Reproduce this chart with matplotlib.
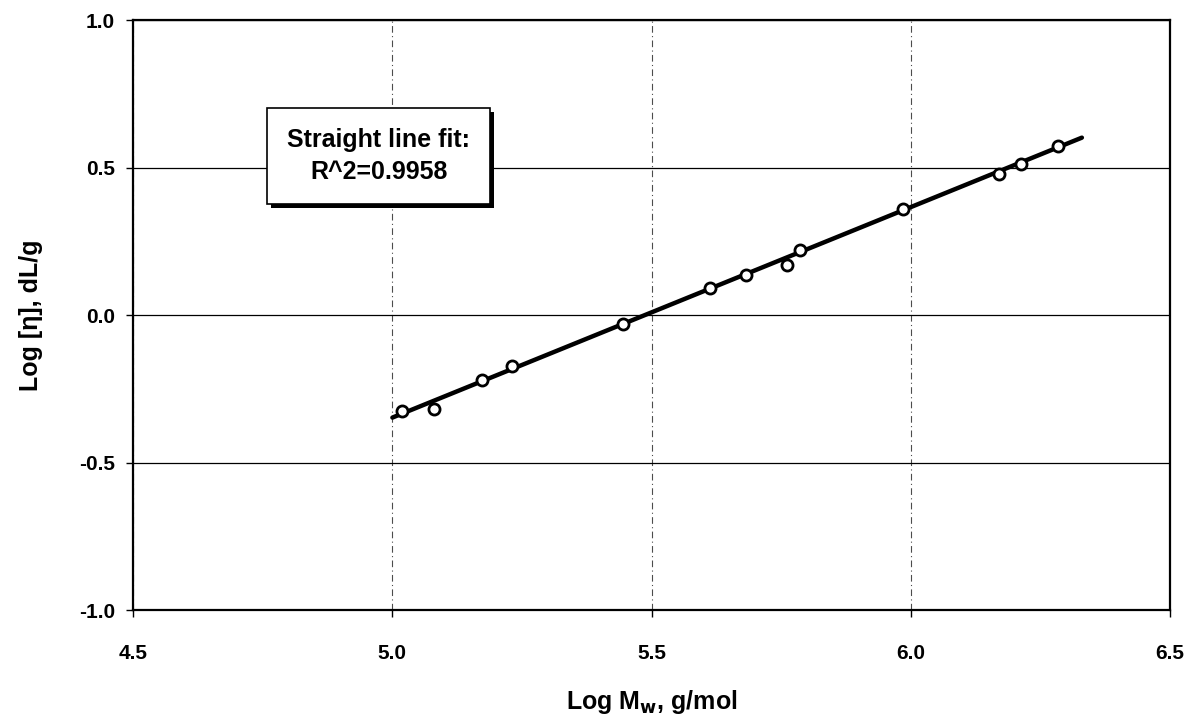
import matplotlib.pyplot as plt
import matplotlib.patches as mpatches
import matplotlib.transforms as mtransforms
import numpy as np

plt.rcParams['font.family'] = ['Liberation Sans', 'DejaVu Sans']
plt.rcParams['font.weight'] = 'bold'

# measured log Mw and log intrinsic viscosity
log_mw = [5.019, 5.081, 5.173, 5.231, 5.445, 5.613, 5.682, 5.761, 5.786, 5.985, 6.170, 6.213, 6.284]
log_eta = [-0.323, -0.318, -0.219, -0.171, -0.029, 0.093, 0.138, 0.170, 0.221, 0.360, 0.478, 0.513, 0.575]

# straight line fit
fit_x = [5.0, 6.33]
fit_y = [-0.347, 0.602]
r2 = 0.9958

xticks = [4.5, 5.0, 5.5, 6.0, 6.5]
yticks = [-1.0, -0.5, 0.0, 0.5, 1.0]

fig = plt.figure(figsize=(12, 7.23), dpi=100)
ax = fig.add_axes([0.111, 0.156, 0.864, 0.816])

ax.plot(fit_x, fit_y, color='black', linewidth=3.2, solid_capstyle='round', zorder=3)
ax.plot(log_mw, log_eta, 'o', markersize=8, markerfacecolor='white',
        markeredgecolor='black', markeredgewidth=2, zorder=4)

ax.set_xlim(4.5, 6.5)
ax.set_ylim(-1.0, 1.0)
ax.set_xticks(xticks)
ax.set_yticks(yticks)
ax.set_xticklabels(['%.1f' % v for v in xticks])
ax.set_yticklabels(['%.1f' % v for v in yticks])
ax.tick_params(axis='both', direction='out', length=5, width=1, labelsize=15)
ax.tick_params(axis='x', pad=19)
ax.tick_params(axis='y', pad=8)

# solid horizontal grid, broken vertical grid
ax.yaxis.grid(True, color='black', linewidth=0.9, linestyle='-')
ax.xaxis.grid(True, color='black', linewidth=0.8, linestyle=(0, (6, 3, 1, 3)), alpha=0.7)
ax.set_axisbelow(True)
for s in ax.spines.values():
    s.set_linewidth(1.6)

ax.set_xlabel('Log M$_{\\mathbf{w}}$, g/mol', fontsize=18, fontweight='bold', labelpad=18)
ax.set_ylabel('Log [η], dL/g', fontsize=18, fontweight='bold', labelpad=26)

# fit annotation box
box = dict(boxstyle='square,pad=0.8', facecolor='white', edgecolor='black', linewidth=1.2)
txt = 'Straight line fit:\nR^2=%.4f' % r2
note = ax.text(4.974, 0.539, txt, ha='center', va='center', fontsize=18, fontweight='bold',
               linespacing=1.4, bbox=box, zorder=6)

# drop shadow behind the box, offset a few pixels right/down
fig.canvas.draw()
bb = note.get_bbox_patch().get_window_extent()
off = mtransforms.Affine2D().translate(4, -4)
shadow = mpatches.Rectangle((bb.x0, bb.y0), bb.width, bb.height, facecolor='black',
                            edgecolor='none', transform=off, zorder=5)
ax.add_artist(shadow)

fig.savefig('out.png', dpi=100)
